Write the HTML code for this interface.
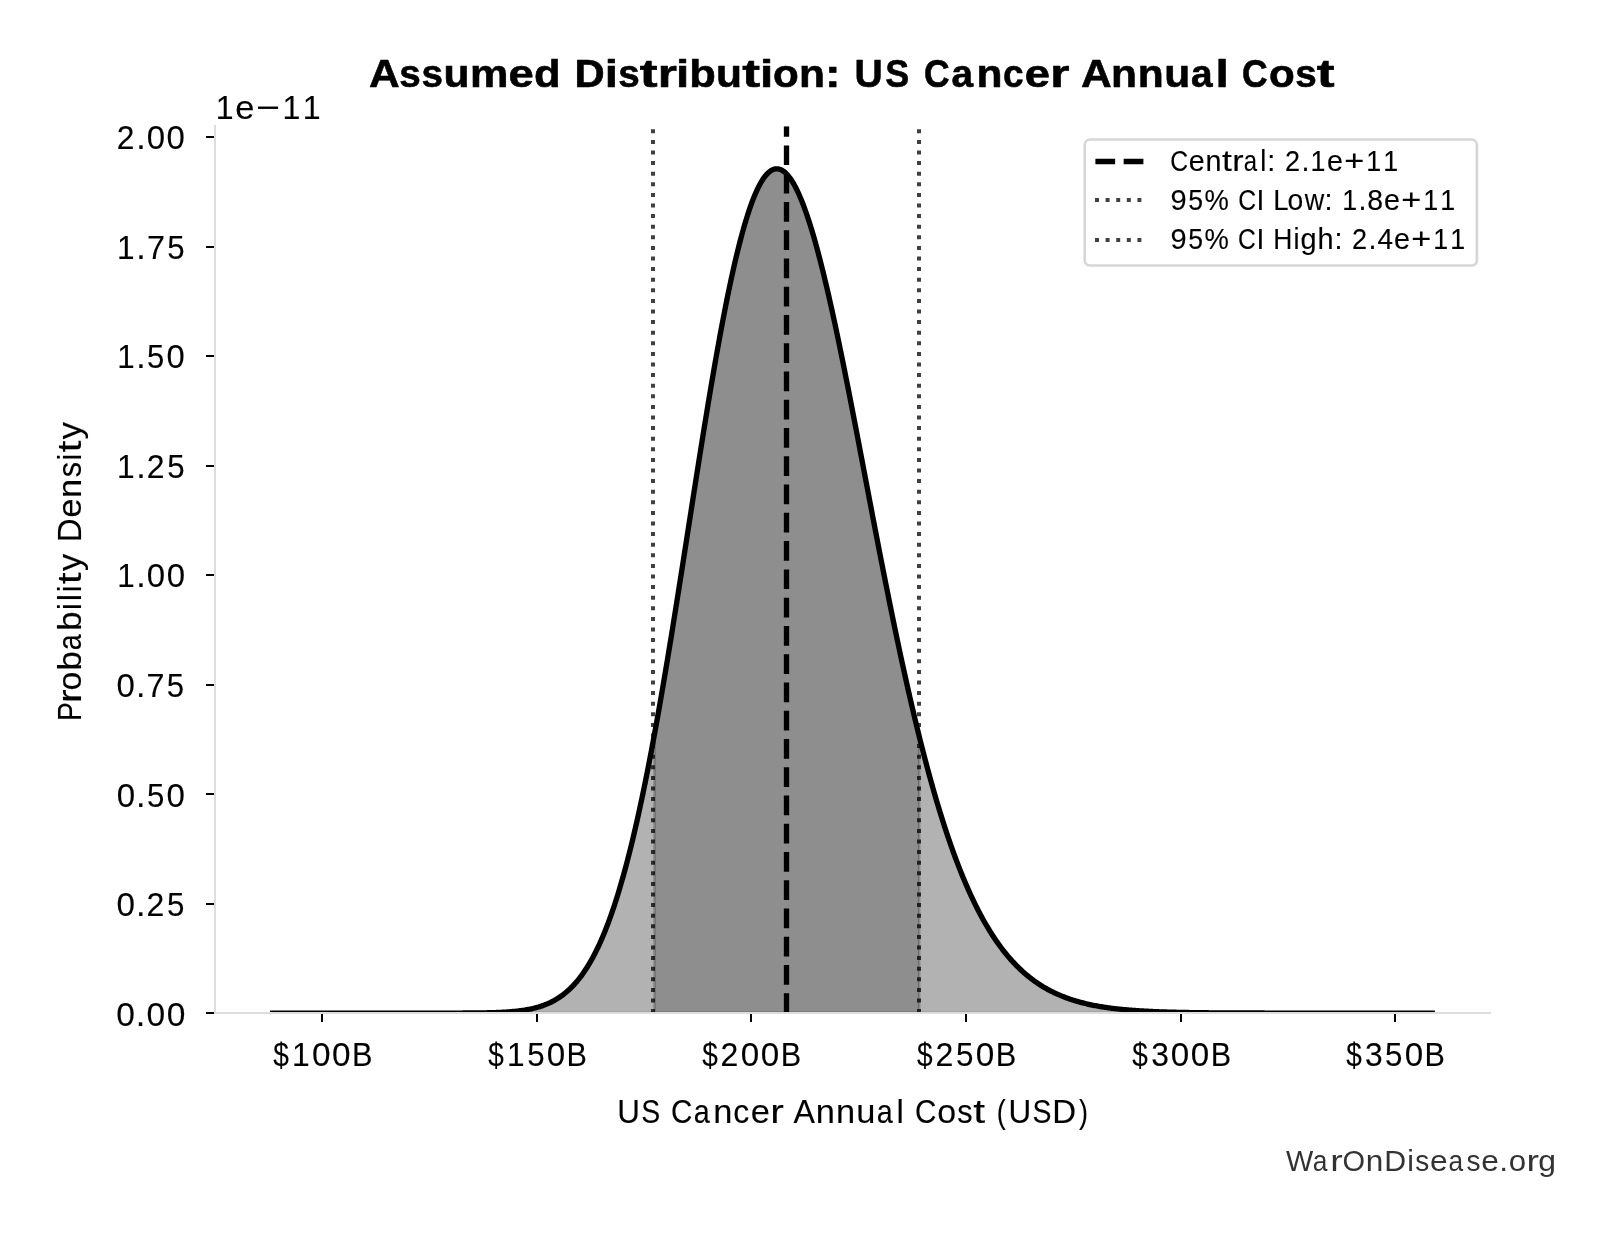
<!DOCTYPE html>
<html><head><meta charset="utf-8"><title>Assumed Distribution: US Cancer Annual Cost</title>
<style>
html,body{margin:0;padding:0;background:#fff;}
body{width:1614px;height:1234px;overflow:hidden;}
svg{display:block;will-change:transform;}
text{font-family:"Liberation Sans",sans-serif;}
</style></head>
<body>
<svg width="1614" height="1234" viewBox="0 0 1614 1234">
<rect width="1614" height="1234" fill="#fff"/>

<defs><clipPath id="ax"><rect x="214.8" y="126.2" width="1275.50" height="886.90"/></clipPath></defs>
<g clip-path="url(#ax)">
<path d="M272.76,1013.1 L272.76,1013.1 273.92,1013.1 275.08,1013.1 276.24,1013.1 277.4,1013.1 278.56,1013.1 279.72,1013.1 280.88,1013.1 282.04,1013.1 283.2,1013.1 284.36,1013.1 285.52,1013.1 286.68,1013.1 287.84,1013.1 289,1013.1 290.16,1013.1 291.33,1013.1 292.49,1013.1 293.65,1013.1 294.81,1013.1 295.97,1013.1 297.13,1013.1 298.29,1013.1 299.45,1013.1 300.61,1013.1 301.77,1013.1 302.93,1013.1 304.09,1013.1 305.25,1013.1 306.41,1013.1 307.57,1013.1 308.73,1013.1 309.9,1013.1 311.06,1013.1 312.22,1013.1 313.38,1013.1 314.54,1013.1 315.7,1013.1 316.86,1013.1 318.02,1013.1 319.18,1013.1 320.34,1013.1 321.5,1013.1 322.66,1013.1 323.82,1013.1 324.98,1013.1 326.14,1013.1 327.3,1013.1 328.47,1013.1 329.63,1013.1 330.79,1013.1 331.95,1013.1 333.11,1013.1 334.27,1013.1 335.43,1013.1 336.59,1013.1 337.75,1013.1 338.91,1013.1 340.07,1013.1 341.23,1013.1 342.39,1013.1 343.55,1013.1 344.71,1013.1 345.87,1013.1 347.04,1013.1 348.2,1013.1 349.36,1013.1 350.52,1013.1 351.68,1013.1 352.84,1013.1 354,1013.1 355.16,1013.1 356.32,1013.1 357.48,1013.1 358.64,1013.1 359.8,1013.1 360.96,1013.1 362.12,1013.1 363.28,1013.1 364.44,1013.1 365.61,1013.1 366.77,1013.1 367.93,1013.1 369.09,1013.1 370.25,1013.1 371.41,1013.1 372.57,1013.1 373.73,1013.1 374.89,1013.1 376.05,1013.1 377.21,1013.1 378.37,1013.1 379.53,1013.1 380.69,1013.1 381.85,1013.1 383.01,1013.1 384.18,1013.1 385.34,1013.1 386.5,1013.1 387.66,1013.1 388.82,1013.1 389.98,1013.1 391.14,1013.1 392.3,1013.1 393.46,1013.1 394.62,1013.1 395.78,1013.1 396.94,1013.1 398.1,1013.1 399.26,1013.1 400.42,1013.1 401.58,1013.1 402.75,1013.1 403.91,1013.1 405.07,1013.1 406.23,1013.1 407.39,1013.1 408.55,1013.1 409.71,1013.1 410.87,1013.1 412.03,1013.1 413.19,1013.1 414.35,1013.1 415.51,1013.1 416.67,1013.1 417.83,1013.1 418.99,1013.1 420.15,1013.1 421.32,1013.1 422.48,1013.1 423.64,1013.1 424.8,1013.1 425.96,1013.1 427.12,1013.1 428.28,1013.1 429.44,1013.1 430.6,1013.1 431.76,1013.1 432.92,1013.1 434.08,1013.09 435.24,1013.09 436.4,1013.09 437.56,1013.09 438.72,1013.09 439.89,1013.09 441.05,1013.09 442.21,1013.09 443.37,1013.09 444.53,1013.09 445.69,1013.09 446.85,1013.08 448.01,1013.08 449.17,1013.08 450.33,1013.08 451.49,1013.08 452.65,1013.07 453.81,1013.07 454.97,1013.07 456.13,1013.07 457.29,1013.06 458.46,1013.06 459.62,1013.06 460.78,1013.05 461.94,1013.05 463.1,1013.04 464.26,1013.04 465.42,1013.03 466.58,1013.03 467.74,1013.02 468.9,1013.01 470.06,1013 471.22,1012.99 472.38,1012.98 473.54,1012.97 474.7,1012.96 475.86,1012.95 477.03,1012.94 478.19,1012.93 479.35,1012.91 480.51,1012.9 481.67,1012.88 482.83,1012.86 483.99,1012.84 485.15,1012.82 486.31,1012.8 487.47,1012.77 488.63,1012.74 489.79,1012.72 490.95,1012.69 492.11,1012.65 493.27,1012.62 494.43,1012.58 495.6,1012.54 496.76,1012.5 497.92,1012.45 499.08,1012.41 500.24,1012.35 501.4,1012.3 502.56,1012.24 503.72,1012.18 504.88,1012.11 506.04,1012.04 507.2,1011.96 508.36,1011.88 509.52,1011.8 510.68,1011.71 511.84,1011.61 513,1011.51 514.17,1011.4 515.33,1011.28 516.49,1011.16 517.65,1011.03 518.81,1010.9 519.97,1010.75 521.13,1010.6 522.29,1010.44 523.45,1010.26 524.61,1010.08 525.77,1009.89 526.93,1009.69 528.09,1009.48 529.25,1009.25 530.41,1009.02 531.57,1008.77 532.74,1008.51 533.9,1008.23 535.06,1007.94 536.22,1007.64 537.38,1007.31 538.54,1006.98 539.7,1006.62 540.86,1006.25 542.02,1005.86 543.18,1005.45 544.34,1005.03 545.5,1004.58 546.66,1004.11 547.82,1003.62 548.98,1003.1 550.14,1002.56 551.31,1002 552.47,1001.41 553.63,1000.8 554.79,1000.15 555.95,999.48 557.11,998.78 558.27,998.06 559.43,997.3 560.59,996.5 561.75,995.68 562.91,994.82 564.07,993.93 565.23,993 566.39,992.03 567.55,991.02 568.71,989.98 569.88,988.89 571.04,987.77 572.2,986.6 573.36,985.39 574.52,984.13 575.68,982.83 576.84,981.48 578,980.08 579.16,978.63 580.32,977.13 581.48,975.58 582.64,973.97 583.8,972.32 584.96,970.6 586.12,968.83 587.28,967 588.45,965.12 589.61,963.17 590.77,961.16 591.93,959.09 593.09,956.96 594.25,954.76 595.41,952.5 596.57,950.17 597.73,947.77 598.89,945.3 600.05,942.77 601.21,940.16 602.37,937.48 603.53,934.73 604.69,931.9 605.85,929 607.02,926.02 608.18,922.97 609.34,919.84 610.5,916.63 611.66,913.34 612.82,909.97 613.98,906.53 615.14,903 616.3,899.39 617.46,895.69 618.62,891.92 619.78,888.06 620.94,884.12 622.1,880.09 623.26,875.98 624.43,871.79 625.59,867.51 626.75,863.15 627.91,858.7 629.07,854.16 630.23,849.54 631.39,844.84 632.55,840.05 633.71,835.17 634.87,830.22 636.03,825.17 637.19,820.05 638.35,814.84 639.51,809.54 640.67,804.17 641.83,798.71 643,793.17 644.16,787.55 645.32,781.85 646.48,776.08 647.64,770.22 648.8,764.29 649.96,758.29 651.12,752.2 652.28,746.05 653.44,739.83 654.6,733.53 655.76,727.17 656.92,720.73 658.08,714.24 659.24,707.68 660.4,701.05 661.57,694.37 662.73,687.62 663.89,680.82 665.05,673.97 666.21,667.06 667.37,660.1 668.53,653.1 669.69,646.05 670.85,638.95 672.01,631.81 673.17,624.63 674.33,617.42 675.49,610.17 676.65,602.89 677.81,595.58 678.97,588.25 680.14,580.89 681.3,573.51 682.46,566.11 683.62,558.69 684.78,551.27 685.94,543.83 687.1,536.39 688.26,528.94 689.42,521.5 690.58,514.05 691.74,506.61 692.9,499.18 694.06,491.76 695.22,484.36 696.38,476.97 697.54,469.61 698.71,462.26 699.87,454.95 701.03,447.66 702.19,440.41 703.35,433.2 704.51,426.03 705.67,418.89 706.83,411.81 707.99,404.77 709.15,397.79 710.31,390.86 711.47,383.99 712.63,377.19 713.79,370.44 714.95,363.77 716.11,357.16 717.28,350.63 718.44,344.18 719.6,337.81 720.76,331.51 721.92,325.31 723.08,319.19 724.24,313.16 725.4,307.23 726.56,301.39 727.72,295.65 728.88,290.01 730.04,284.48 731.2,279.05 732.36,273.73 733.52,268.53 734.68,263.43 735.85,258.45 737.01,253.59 738.17,248.85 739.33,244.23 740.49,239.73 741.65,235.36 742.81,231.12 743.97,227 745.13,223.02 746.29,219.17 747.45,215.45 748.61,211.87 749.77,208.42 750.93,205.11 752.09,201.94 753.25,198.91 754.42,196.03 755.58,193.28 756.74,190.68 757.9,188.22 759.06,185.91 760.22,183.74 761.38,181.72 762.54,179.84 763.7,178.11 764.86,176.53 766.02,175.09 767.18,173.81 768.34,172.67 769.5,171.67 770.66,170.83 771.82,170.13 772.99,169.58 774.15,169.18 775.31,168.92 776.47,168.81 777.63,168.85 778.79,169.03 779.95,169.35 781.11,169.82 782.27,170.43 783.43,171.19 784.59,172.08 785.75,173.11 786.91,174.29 788.07,175.6 789.23,177.05 790.39,178.63 791.56,180.34 792.72,182.19 793.88,184.17 795.04,186.28 796.2,188.52 797.36,190.89 798.52,193.38 799.68,195.99 800.84,198.73 802,201.58 803.16,204.55 804.32,207.64 805.48,210.85 806.64,214.16 807.8,217.59 808.96,221.12 810.13,224.76 811.29,228.51 812.45,232.35 813.61,236.3 814.77,240.34 815.93,244.48 817.09,248.71 818.25,253.04 819.41,257.45 820.57,261.95 821.73,266.53 822.89,271.2 824.05,275.95 825.21,280.77 826.37,285.67 827.53,290.64 828.7,295.68 829.86,300.79 831.02,305.96 832.18,311.2 833.34,316.5 834.5,321.86 835.66,327.27 836.82,332.74 837.98,338.26 839.14,343.83 840.3,349.45 841.46,355.11 842.62,360.81 843.78,366.55 844.94,372.34 846.1,378.15 847.27,384 848.43,389.88 849.59,395.79 850.75,401.73 851.91,407.69 853.07,413.68 854.23,419.68 855.39,425.7 856.55,431.74 857.71,437.8 858.87,443.86 860.03,449.94 861.19,456.02 862.35,462.11 863.51,468.2 864.67,474.3 865.84,480.4 867,486.49 868.16,492.58 869.32,498.67 870.48,504.75 871.64,510.82 872.8,516.89 873.96,522.94 875.12,528.97 876.28,535 877.44,541.01 878.6,546.99 879.76,552.96 880.92,558.91 882.08,564.84 883.24,570.75 884.41,576.62 885.57,582.48 886.73,588.3 887.89,594.1 889.05,599.87 890.21,605.61 891.37,611.31 892.53,616.99 893.69,622.63 894.85,628.23 896.01,633.8 897.17,639.33 898.33,644.82 899.49,650.28 900.65,655.69 901.81,661.07 902.98,666.4 904.14,671.69 905.3,676.94 906.46,682.15 907.62,687.31 908.78,692.43 909.94,697.5 911.1,702.53 912.26,707.51 913.42,712.45 914.58,717.33 915.74,722.17 916.9,726.97 918.06,731.71 919.22,736.41 920.38,741.06 921.55,745.66 922.71,750.2 923.87,754.7 925.03,759.15 926.19,763.55 927.35,767.9 928.51,772.2 929.67,776.45 930.83,780.65 931.99,784.8 933.15,788.89 934.31,792.94 935.47,796.94 936.63,800.88 937.79,804.78 938.95,808.62 940.12,812.42 941.28,816.16 942.44,819.85 943.6,823.5 944.76,827.09 945.92,830.63 947.08,834.13 948.24,837.57 949.4,840.97 950.56,844.32 951.72,847.61 952.88,850.86 954.04,854.06 955.2,857.22 956.36,860.32 957.52,863.38 958.69,866.39 959.85,869.36 961.01,872.27 962.17,875.15 963.33,877.97 964.49,880.75 965.65,883.49 966.81,886.18 967.97,888.83 969.13,891.43 970.29,893.99 971.45,896.51 972.61,898.98 973.77,901.42 974.93,903.81 976.09,906.16 977.26,908.46 978.42,910.73 979.58,912.96 980.74,915.15 981.9,917.3 983.06,919.41 984.22,921.48 985.38,923.51 986.54,925.51 987.7,927.47 988.86,929.39 990.02,931.28 991.18,933.13 992.34,934.95 993.5,936.73 994.66,938.48 995.83,940.19 996.99,941.87 998.15,943.52 999.31,945.14 1000.47,946.72 1001.63,948.27 1002.79,949.79 1003.95,951.29 1005.11,952.75 1006.27,954.18 1007.43,955.58 1008.59,956.95 1009.75,958.3 1010.91,959.62 1012.07,960.91 1013.23,962.17 1014.4,963.41 1015.56,964.62 1016.72,965.8 1017.88,966.96 1019.04,968.1 1020.2,969.21 1021.36,970.29 1022.52,971.36 1023.68,972.4 1024.84,973.41 1026,974.41 1027.16,975.38 1028.32,976.33 1029.48,977.26 1030.64,978.17 1031.8,979.06 1032.97,979.93 1034.13,980.78 1035.29,981.61 1036.45,982.42 1037.61,983.21 1038.77,983.99 1039.93,984.74 1041.09,985.48 1042.25,986.2 1043.41,986.91 1044.57,987.59 1045.73,988.27 1046.89,988.92 1048.05,989.56 1049.21,990.19 1050.37,990.8 1051.54,991.39 1052.7,991.97 1053.86,992.54 1055.02,993.09 1056.18,993.63 1057.34,994.16 1058.5,994.67 1059.66,995.18 1060.82,995.66 1061.98,996.14 1063.14,996.6 1064.3,997.06 1065.46,997.5 1066.62,997.93 1067.78,998.35 1068.94,998.76 1070.11,999.16 1071.27,999.55 1072.43,999.93 1073.59,1000.29 1074.75,1000.65 1075.91,1001 1077.07,1001.35 1078.23,1001.68 1079.39,1002 1080.55,1002.32 1081.71,1002.62 1082.87,1002.92 1084.03,1003.21 1085.19,1003.5 1086.35,1003.77 1087.51,1004.04 1088.68,1004.3 1089.84,1004.56 1091,1004.8 1092.16,1005.05 1093.32,1005.28 1094.48,1005.51 1095.64,1005.73 1096.8,1005.95 1097.96,1006.16 1099.12,1006.36 1100.28,1006.56 1101.44,1006.75 1102.6,1006.94 1103.76,1007.12 1104.92,1007.3 1106.09,1007.47 1107.25,1007.64 1108.41,1007.81 1109.57,1007.96 1110.73,1008.12 1111.89,1008.27 1113.05,1008.41 1114.21,1008.56 1115.37,1008.69 1116.53,1008.83 1117.69,1008.96 1118.85,1009.08 1120.01,1009.21 1121.17,1009.32 1122.33,1009.44 1123.49,1009.55 1124.66,1009.66 1125.82,1009.77 1126.98,1009.87 1128.14,1009.97 1129.3,1010.07 1130.46,1010.16 1131.62,1010.25 1132.78,1010.34 1133.94,1010.43 1135.1,1010.51 1136.26,1010.59 1137.42,1010.67 1138.58,1010.75 1139.74,1010.82 1140.9,1010.89 1142.06,1010.96 1143.23,1011.03 1144.39,1011.1 1145.55,1011.16 1146.71,1011.22 1147.87,1011.28 1149.03,1011.34 1150.19,1011.39 1151.35,1011.45 1152.51,1011.5 1153.67,1011.55 1154.83,1011.6 1155.99,1011.65 1157.15,1011.7 1158.31,1011.74 1159.47,1011.79 1160.63,1011.83 1161.8,1011.87 1162.96,1011.91 1164.12,1011.95 1165.28,1011.99 1166.44,1012.02 1167.6,1012.06 1168.76,1012.09 1169.92,1012.13 1171.08,1012.16 1172.24,1012.19 1173.4,1012.22 1174.56,1012.25 1175.72,1012.28 1176.88,1012.3 1178.04,1012.33 1179.2,1012.36 1180.37,1012.38 1181.53,1012.4 1182.69,1012.43 1183.85,1012.45 1185.01,1012.47 1186.17,1012.49 1187.33,1012.51 1188.49,1012.53 1189.65,1012.55 1190.81,1012.57 1191.97,1012.59 1193.13,1012.61 1194.29,1012.62 1195.45,1012.64 1196.61,1012.65 1197.77,1012.67 1198.94,1012.68 1200.1,1012.7 1201.26,1012.71 1202.42,1012.73 1203.58,1012.74 1204.74,1012.75 1205.9,1012.76 1207.06,1012.77 1208.22,1012.79 1209.38,1012.8 1210.54,1012.81 1211.7,1012.82 1212.86,1012.83 1214.02,1012.84 1215.18,1012.85 1216.34,1012.85 1217.51,1012.86 1218.67,1012.87 1219.83,1012.88 1220.99,1012.89 1222.15,1012.89 1223.31,1012.9 1224.47,1012.91 1225.63,1012.92 1226.79,1012.92 1227.95,1012.93 1229.11,1012.93 1230.27,1012.94 1231.43,1012.95 1232.59,1012.95 1233.75,1012.96 1234.91,1012.96 1236.08,1012.97 1237.24,1012.97 1238.4,1012.98 1239.56,1012.98 1240.72,1012.98 1241.88,1012.99 1243.04,1012.99 1244.2,1013 1245.36,1013 1246.52,1013 1247.68,1013.01 1248.84,1013.01 1250,1013.01 1251.16,1013.02 1252.32,1013.02 1253.48,1013.02 1254.65,1013.03 1255.81,1013.03 1256.97,1013.03 1258.13,1013.03 1259.29,1013.04 1260.45,1013.04 1261.61,1013.04 1262.77,1013.04 1263.93,1013.04 1265.09,1013.05 1266.25,1013.05 1267.41,1013.05 1268.57,1013.05 1269.73,1013.05 1270.89,1013.06 1272.05,1013.06 1273.22,1013.06 1274.38,1013.06 1275.54,1013.06 1276.7,1013.06 1277.86,1013.06 1279.02,1013.07 1280.18,1013.07 1281.34,1013.07 1282.5,1013.07 1283.66,1013.07 1284.82,1013.07 1285.98,1013.07 1287.14,1013.07 1288.3,1013.07 1289.46,1013.08 1290.62,1013.08 1291.79,1013.08 1292.95,1013.08 1294.11,1013.08 1295.27,1013.08 1296.43,1013.08 1297.59,1013.08 1298.75,1013.08 1299.91,1013.08 1301.07,1013.08 1302.23,1013.08 1303.39,1013.08 1304.55,1013.09 1305.71,1013.09 1306.87,1013.09 1308.03,1013.09 1309.19,1013.09 1310.36,1013.09 1311.52,1013.09 1312.68,1013.09 1313.84,1013.09 1315,1013.09 1316.16,1013.09 1317.32,1013.09 1318.48,1013.09 1319.64,1013.09 1320.8,1013.09 1321.96,1013.09 1323.12,1013.09 1324.28,1013.09 1325.44,1013.09 1326.6,1013.09 1327.76,1013.09 1328.93,1013.09 1330.09,1013.09 1331.25,1013.09 1332.41,1013.09 1333.57,1013.09 1334.73,1013.09 1335.89,1013.09 1337.05,1013.1 1338.21,1013.1 1339.37,1013.1 1340.53,1013.1 1341.69,1013.1 1342.85,1013.1 1344.01,1013.1 1345.17,1013.1 1346.33,1013.1 1347.5,1013.1 1348.66,1013.1 1349.82,1013.1 1350.98,1013.1 1352.14,1013.1 1353.3,1013.1 1354.46,1013.1 1355.62,1013.1 1356.78,1013.1 1357.94,1013.1 1359.1,1013.1 1360.26,1013.1 1361.42,1013.1 1362.58,1013.1 1363.74,1013.1 1364.9,1013.1 1366.07,1013.1 1367.23,1013.1 1368.39,1013.1 1369.55,1013.1 1370.71,1013.1 1371.87,1013.1 1373.03,1013.1 1374.19,1013.1 1375.35,1013.1 1376.51,1013.1 1377.67,1013.1 1378.83,1013.1 1379.99,1013.1 1381.15,1013.1 1382.31,1013.1 1383.47,1013.1 1384.64,1013.1 1385.8,1013.1 1386.96,1013.1 1388.12,1013.1 1389.28,1013.1 1390.44,1013.1 1391.6,1013.1 1392.76,1013.1 1393.92,1013.1 1395.08,1013.1 1396.24,1013.1 1397.4,1013.1 1398.56,1013.1 1399.72,1013.1 1400.88,1013.1 1402.04,1013.1 1403.21,1013.1 1404.37,1013.1 1405.53,1013.1 1406.69,1013.1 1407.85,1013.1 1409.01,1013.1 1410.17,1013.1 1411.33,1013.1 1412.49,1013.1 1413.65,1013.1 1414.81,1013.1 1415.97,1013.1 1417.13,1013.1 1418.29,1013.1 1419.45,1013.1 1420.61,1013.1 1421.78,1013.1 1422.94,1013.1 1424.1,1013.1 1425.26,1013.1 1426.42,1013.1 1427.58,1013.1 1428.74,1013.1 1429.9,1013.1 1431.06,1013.1 1432.22,1013.1 L1432.22,1013.1 Z" fill="#000" fill-opacity="0.3" stroke="#000" stroke-opacity="0.3" stroke-width="2.667" stroke-linejoin="round"/>
<path d="M654.5,1013.1 L654.5,734.08 654.6,733.53 655.76,727.17 656.92,720.73 658.08,714.24 659.24,707.68 660.4,701.05 661.57,694.37 662.73,687.62 663.89,680.82 665.05,673.97 666.21,667.06 667.37,660.1 668.53,653.1 669.69,646.05 670.85,638.95 672.01,631.81 673.17,624.63 674.33,617.42 675.49,610.17 676.65,602.89 677.81,595.58 678.97,588.25 680.14,580.89 681.3,573.51 682.46,566.11 683.62,558.69 684.78,551.27 685.94,543.83 687.1,536.39 688.26,528.94 689.42,521.5 690.58,514.05 691.74,506.61 692.9,499.18 694.06,491.76 695.22,484.36 696.38,476.97 697.54,469.61 698.71,462.26 699.87,454.95 701.03,447.66 702.19,440.41 703.35,433.2 704.51,426.03 705.67,418.89 706.83,411.81 707.99,404.77 709.15,397.79 710.31,390.86 711.47,383.99 712.63,377.19 713.79,370.44 714.95,363.77 716.11,357.16 717.28,350.63 718.44,344.18 719.6,337.81 720.76,331.51 721.92,325.31 723.08,319.19 724.24,313.16 725.4,307.23 726.56,301.39 727.72,295.65 728.88,290.01 730.04,284.48 731.2,279.05 732.36,273.73 733.52,268.53 734.68,263.43 735.85,258.45 737.01,253.59 738.17,248.85 739.33,244.23 740.49,239.73 741.65,235.36 742.81,231.12 743.97,227 745.13,223.02 746.29,219.17 747.45,215.45 748.61,211.87 749.77,208.42 750.93,205.11 752.09,201.94 753.25,198.91 754.42,196.03 755.58,193.28 756.74,190.68 757.9,188.22 759.06,185.91 760.22,183.74 761.38,181.72 762.54,179.84 763.7,178.11 764.86,176.53 766.02,175.09 767.18,173.81 768.34,172.67 769.5,171.67 770.66,170.83 771.82,170.13 772.99,169.58 774.15,169.18 775.31,168.92 776.47,168.81 777.63,168.85 778.79,169.03 779.95,169.35 781.11,169.82 782.27,170.43 783.43,171.19 784.59,172.08 785.75,173.11 786.91,174.29 788.07,175.6 789.23,177.05 790.39,178.63 791.56,180.34 792.72,182.19 793.88,184.17 795.04,186.28 796.2,188.52 797.36,190.89 798.52,193.38 799.68,195.99 800.84,198.73 802,201.58 803.16,204.55 804.32,207.64 805.48,210.85 806.64,214.16 807.8,217.59 808.96,221.12 810.13,224.76 811.29,228.51 812.45,232.35 813.61,236.3 814.77,240.34 815.93,244.48 817.09,248.71 818.25,253.04 819.41,257.45 820.57,261.95 821.73,266.53 822.89,271.2 824.05,275.95 825.21,280.77 826.37,285.67 827.53,290.64 828.7,295.68 829.86,300.79 831.02,305.96 832.18,311.2 833.34,316.5 834.5,321.86 835.66,327.27 836.82,332.74 837.98,338.26 839.14,343.83 840.3,349.45 841.46,355.11 842.62,360.81 843.78,366.55 844.94,372.34 846.1,378.15 847.27,384 848.43,389.88 849.59,395.79 850.75,401.73 851.91,407.69 853.07,413.68 854.23,419.68 855.39,425.7 856.55,431.74 857.71,437.8 858.87,443.86 860.03,449.94 861.19,456.02 862.35,462.11 863.51,468.2 864.67,474.3 865.84,480.4 867,486.49 868.16,492.58 869.32,498.67 870.48,504.75 871.64,510.82 872.8,516.89 873.96,522.94 875.12,528.97 876.28,535 877.44,541.01 878.6,546.99 879.76,552.96 880.92,558.91 882.08,564.84 883.24,570.75 884.41,576.62 885.57,582.48 886.73,588.3 887.89,594.1 889.05,599.87 890.21,605.61 891.37,611.31 892.53,616.99 893.69,622.63 894.85,628.23 896.01,633.8 897.17,639.33 898.33,644.82 899.49,650.28 900.65,655.69 901.81,661.07 902.98,666.4 904.14,671.69 905.3,676.94 906.46,682.15 907.62,687.31 908.78,692.43 909.94,697.5 911.1,702.53 912.26,707.51 913.42,712.45 914.58,717.33 915.74,722.17 916.9,726.97 918.06,731.71 919.2,736.31 L919.2,1013.1 Z" fill="#000" fill-opacity="0.2" stroke="#000" stroke-opacity="0.2" stroke-width="2.667" stroke-linejoin="round"/>
<path d="M272.76,1013.1 L273.92,1013.1 L275.08,1013.1 L276.24,1013.1 L277.4,1013.1 L278.56,1013.1 L279.72,1013.1 L280.88,1013.1 L282.04,1013.1 L283.2,1013.1 L284.36,1013.1 L285.52,1013.1 L286.68,1013.1 L287.84,1013.1 L289,1013.1 L290.16,1013.1 L291.33,1013.1 L292.49,1013.1 L293.65,1013.1 L294.81,1013.1 L295.97,1013.1 L297.13,1013.1 L298.29,1013.1 L299.45,1013.1 L300.61,1013.1 L301.77,1013.1 L302.93,1013.1 L304.09,1013.1 L305.25,1013.1 L306.41,1013.1 L307.57,1013.1 L308.73,1013.1 L309.9,1013.1 L311.06,1013.1 L312.22,1013.1 L313.38,1013.1 L314.54,1013.1 L315.7,1013.1 L316.86,1013.1 L318.02,1013.1 L319.18,1013.1 L320.34,1013.1 L321.5,1013.1 L322.66,1013.1 L323.82,1013.1 L324.98,1013.1 L326.14,1013.1 L327.3,1013.1 L328.47,1013.1 L329.63,1013.1 L330.79,1013.1 L331.95,1013.1 L333.11,1013.1 L334.27,1013.1 L335.43,1013.1 L336.59,1013.1 L337.75,1013.1 L338.91,1013.1 L340.07,1013.1 L341.23,1013.1 L342.39,1013.1 L343.55,1013.1 L344.71,1013.1 L345.87,1013.1 L347.04,1013.1 L348.2,1013.1 L349.36,1013.1 L350.52,1013.1 L351.68,1013.1 L352.84,1013.1 L354,1013.1 L355.16,1013.1 L356.32,1013.1 L357.48,1013.1 L358.64,1013.1 L359.8,1013.1 L360.96,1013.1 L362.12,1013.1 L363.28,1013.1 L364.44,1013.1 L365.61,1013.1 L366.77,1013.1 L367.93,1013.1 L369.09,1013.1 L370.25,1013.1 L371.41,1013.1 L372.57,1013.1 L373.73,1013.1 L374.89,1013.1 L376.05,1013.1 L377.21,1013.1 L378.37,1013.1 L379.53,1013.1 L380.69,1013.1 L381.85,1013.1 L383.01,1013.1 L384.18,1013.1 L385.34,1013.1 L386.5,1013.1 L387.66,1013.1 L388.82,1013.1 L389.98,1013.1 L391.14,1013.1 L392.3,1013.1 L393.46,1013.1 L394.62,1013.1 L395.78,1013.1 L396.94,1013.1 L398.1,1013.1 L399.26,1013.1 L400.42,1013.1 L401.58,1013.1 L402.75,1013.1 L403.91,1013.1 L405.07,1013.1 L406.23,1013.1 L407.39,1013.1 L408.55,1013.1 L409.71,1013.1 L410.87,1013.1 L412.03,1013.1 L413.19,1013.1 L414.35,1013.1 L415.51,1013.1 L416.67,1013.1 L417.83,1013.1 L418.99,1013.1 L420.15,1013.1 L421.32,1013.1 L422.48,1013.1 L423.64,1013.1 L424.8,1013.1 L425.96,1013.1 L427.12,1013.1 L428.28,1013.1 L429.44,1013.1 L430.6,1013.1 L431.76,1013.1 L432.92,1013.1 L434.08,1013.09 L435.24,1013.09 L436.4,1013.09 L437.56,1013.09 L438.72,1013.09 L439.89,1013.09 L441.05,1013.09 L442.21,1013.09 L443.37,1013.09 L444.53,1013.09 L445.69,1013.09 L446.85,1013.08 L448.01,1013.08 L449.17,1013.08 L450.33,1013.08 L451.49,1013.08 L452.65,1013.07 L453.81,1013.07 L454.97,1013.07 L456.13,1013.07 L457.29,1013.06 L458.46,1013.06 L459.62,1013.06 L460.78,1013.05 L461.94,1013.05 L463.1,1013.04 L464.26,1013.04 L465.42,1013.03 L466.58,1013.03 L467.74,1013.02 L468.9,1013.01 L470.06,1013 L471.22,1012.99 L472.38,1012.98 L473.54,1012.97 L474.7,1012.96 L475.86,1012.95 L477.03,1012.94 L478.19,1012.93 L479.35,1012.91 L480.51,1012.9 L481.67,1012.88 L482.83,1012.86 L483.99,1012.84 L485.15,1012.82 L486.31,1012.8 L487.47,1012.77 L488.63,1012.74 L489.79,1012.72 L490.95,1012.69 L492.11,1012.65 L493.27,1012.62 L494.43,1012.58 L495.6,1012.54 L496.76,1012.5 L497.92,1012.45 L499.08,1012.41 L500.24,1012.35 L501.4,1012.3 L502.56,1012.24 L503.72,1012.18 L504.88,1012.11 L506.04,1012.04 L507.2,1011.96 L508.36,1011.88 L509.52,1011.8 L510.68,1011.71 L511.84,1011.61 L513,1011.51 L514.17,1011.4 L515.33,1011.28 L516.49,1011.16 L517.65,1011.03 L518.81,1010.9 L519.97,1010.75 L521.13,1010.6 L522.29,1010.44 L523.45,1010.26 L524.61,1010.08 L525.77,1009.89 L526.93,1009.69 L528.09,1009.48 L529.25,1009.25 L530.41,1009.02 L531.57,1008.77 L532.74,1008.51 L533.9,1008.23 L535.06,1007.94 L536.22,1007.64 L537.38,1007.31 L538.54,1006.98 L539.7,1006.62 L540.86,1006.25 L542.02,1005.86 L543.18,1005.45 L544.34,1005.03 L545.5,1004.58 L546.66,1004.11 L547.82,1003.62 L548.98,1003.1 L550.14,1002.56 L551.31,1002 L552.47,1001.41 L553.63,1000.8 L554.79,1000.15 L555.95,999.48 L557.11,998.78 L558.27,998.06 L559.43,997.3 L560.59,996.5 L561.75,995.68 L562.91,994.82 L564.07,993.93 L565.23,993 L566.39,992.03 L567.55,991.02 L568.71,989.98 L569.88,988.89 L571.04,987.77 L572.2,986.6 L573.36,985.39 L574.52,984.13 L575.68,982.83 L576.84,981.48 L578,980.08 L579.16,978.63 L580.32,977.13 L581.48,975.58 L582.64,973.97 L583.8,972.32 L584.96,970.6 L586.12,968.83 L587.28,967 L588.45,965.12 L589.61,963.17 L590.77,961.16 L591.93,959.09 L593.09,956.96 L594.25,954.76 L595.41,952.5 L596.57,950.17 L597.73,947.77 L598.89,945.3 L600.05,942.77 L601.21,940.16 L602.37,937.48 L603.53,934.73 L604.69,931.9 L605.85,929 L607.02,926.02 L608.18,922.97 L609.34,919.84 L610.5,916.63 L611.66,913.34 L612.82,909.97 L613.98,906.53 L615.14,903 L616.3,899.39 L617.46,895.69 L618.62,891.92 L619.78,888.06 L620.94,884.12 L622.1,880.09 L623.26,875.98 L624.43,871.79 L625.59,867.51 L626.75,863.15 L627.91,858.7 L629.07,854.16 L630.23,849.54 L631.39,844.84 L632.55,840.05 L633.71,835.17 L634.87,830.22 L636.03,825.17 L637.19,820.05 L638.35,814.84 L639.51,809.54 L640.67,804.17 L641.83,798.71 L643,793.17 L644.16,787.55 L645.32,781.85 L646.48,776.08 L647.64,770.22 L648.8,764.29 L649.96,758.29 L651.12,752.2 L652.28,746.05 L653.44,739.83 L654.6,733.53 L655.76,727.17 L656.92,720.73 L658.08,714.24 L659.24,707.68 L660.4,701.05 L661.57,694.37 L662.73,687.62 L663.89,680.82 L665.05,673.97 L666.21,667.06 L667.37,660.1 L668.53,653.1 L669.69,646.05 L670.85,638.95 L672.01,631.81 L673.17,624.63 L674.33,617.42 L675.49,610.17 L676.65,602.89 L677.81,595.58 L678.97,588.25 L680.14,580.89 L681.3,573.51 L682.46,566.11 L683.62,558.69 L684.78,551.27 L685.94,543.83 L687.1,536.39 L688.26,528.94 L689.42,521.5 L690.58,514.05 L691.74,506.61 L692.9,499.18 L694.06,491.76 L695.22,484.36 L696.38,476.97 L697.54,469.61 L698.71,462.26 L699.87,454.95 L701.03,447.66 L702.19,440.41 L703.35,433.2 L704.51,426.03 L705.67,418.89 L706.83,411.81 L707.99,404.77 L709.15,397.79 L710.31,390.86 L711.47,383.99 L712.63,377.19 L713.79,370.44 L714.95,363.77 L716.11,357.16 L717.28,350.63 L718.44,344.18 L719.6,337.81 L720.76,331.51 L721.92,325.31 L723.08,319.19 L724.24,313.16 L725.4,307.23 L726.56,301.39 L727.72,295.65 L728.88,290.01 L730.04,284.48 L731.2,279.05 L732.36,273.73 L733.52,268.53 L734.68,263.43 L735.85,258.45 L737.01,253.59 L738.17,248.85 L739.33,244.23 L740.49,239.73 L741.65,235.36 L742.81,231.12 L743.97,227 L745.13,223.02 L746.29,219.17 L747.45,215.45 L748.61,211.87 L749.77,208.42 L750.93,205.11 L752.09,201.94 L753.25,198.91 L754.42,196.03 L755.58,193.28 L756.74,190.68 L757.9,188.22 L759.06,185.91 L760.22,183.74 L761.38,181.72 L762.54,179.84 L763.7,178.11 L764.86,176.53 L766.02,175.09 L767.18,173.81 L768.34,172.67 L769.5,171.67 L770.66,170.83 L771.82,170.13 L772.99,169.58 L774.15,169.18 L775.31,168.92 L776.47,168.81 L777.63,168.85 L778.79,169.03 L779.95,169.35 L781.11,169.82 L782.27,170.43 L783.43,171.19 L784.59,172.08 L785.75,173.11 L786.91,174.29 L788.07,175.6 L789.23,177.05 L790.39,178.63 L791.56,180.34 L792.72,182.19 L793.88,184.17 L795.04,186.28 L796.2,188.52 L797.36,190.89 L798.52,193.38 L799.68,195.99 L800.84,198.73 L802,201.58 L803.16,204.55 L804.32,207.64 L805.48,210.85 L806.64,214.16 L807.8,217.59 L808.96,221.12 L810.13,224.76 L811.29,228.51 L812.45,232.35 L813.61,236.3 L814.77,240.34 L815.93,244.48 L817.09,248.71 L818.25,253.04 L819.41,257.45 L820.57,261.95 L821.73,266.53 L822.89,271.2 L824.05,275.95 L825.21,280.77 L826.37,285.67 L827.53,290.64 L828.7,295.68 L829.86,300.79 L831.02,305.96 L832.18,311.2 L833.34,316.5 L834.5,321.86 L835.66,327.27 L836.82,332.74 L837.98,338.26 L839.14,343.83 L840.3,349.45 L841.46,355.11 L842.62,360.81 L843.78,366.55 L844.94,372.34 L846.1,378.15 L847.27,384 L848.43,389.88 L849.59,395.79 L850.75,401.73 L851.91,407.69 L853.07,413.68 L854.23,419.68 L855.39,425.7 L856.55,431.74 L857.71,437.8 L858.87,443.86 L860.03,449.94 L861.19,456.02 L862.35,462.11 L863.51,468.2 L864.67,474.3 L865.84,480.4 L867,486.49 L868.16,492.58 L869.32,498.67 L870.48,504.75 L871.64,510.82 L872.8,516.89 L873.96,522.94 L875.12,528.97 L876.28,535 L877.44,541.01 L878.6,546.99 L879.76,552.96 L880.92,558.91 L882.08,564.84 L883.24,570.75 L884.41,576.62 L885.57,582.48 L886.73,588.3 L887.89,594.1 L889.05,599.87 L890.21,605.61 L891.37,611.31 L892.53,616.99 L893.69,622.63 L894.85,628.23 L896.01,633.8 L897.17,639.33 L898.33,644.82 L899.49,650.28 L900.65,655.69 L901.81,661.07 L902.98,666.4 L904.14,671.69 L905.3,676.94 L906.46,682.15 L907.62,687.31 L908.78,692.43 L909.94,697.5 L911.1,702.53 L912.26,707.51 L913.42,712.45 L914.58,717.33 L915.74,722.17 L916.9,726.97 L918.06,731.71 L919.22,736.41 L920.38,741.06 L921.55,745.66 L922.71,750.2 L923.87,754.7 L925.03,759.15 L926.19,763.55 L927.35,767.9 L928.51,772.2 L929.67,776.45 L930.83,780.65 L931.99,784.8 L933.15,788.89 L934.31,792.94 L935.47,796.94 L936.63,800.88 L937.79,804.78 L938.95,808.62 L940.12,812.42 L941.28,816.16 L942.44,819.85 L943.6,823.5 L944.76,827.09 L945.92,830.63 L947.08,834.13 L948.24,837.57 L949.4,840.97 L950.56,844.32 L951.72,847.61 L952.88,850.86 L954.04,854.06 L955.2,857.22 L956.36,860.32 L957.52,863.38 L958.69,866.39 L959.85,869.36 L961.01,872.27 L962.17,875.15 L963.33,877.97 L964.49,880.75 L965.65,883.49 L966.81,886.18 L967.97,888.83 L969.13,891.43 L970.29,893.99 L971.45,896.51 L972.61,898.98 L973.77,901.42 L974.93,903.81 L976.09,906.16 L977.26,908.46 L978.42,910.73 L979.58,912.96 L980.74,915.15 L981.9,917.3 L983.06,919.41 L984.22,921.48 L985.38,923.51 L986.54,925.51 L987.7,927.47 L988.86,929.39 L990.02,931.28 L991.18,933.13 L992.34,934.95 L993.5,936.73 L994.66,938.48 L995.83,940.19 L996.99,941.87 L998.15,943.52 L999.31,945.14 L1000.47,946.72 L1001.63,948.27 L1002.79,949.79 L1003.95,951.29 L1005.11,952.75 L1006.27,954.18 L1007.43,955.58 L1008.59,956.95 L1009.75,958.3 L1010.91,959.62 L1012.07,960.91 L1013.23,962.17 L1014.4,963.41 L1015.56,964.62 L1016.72,965.8 L1017.88,966.96 L1019.04,968.1 L1020.2,969.21 L1021.36,970.29 L1022.52,971.36 L1023.68,972.4 L1024.84,973.41 L1026,974.41 L1027.16,975.38 L1028.32,976.33 L1029.48,977.26 L1030.64,978.17 L1031.8,979.06 L1032.97,979.93 L1034.13,980.78 L1035.29,981.61 L1036.45,982.42 L1037.61,983.21 L1038.77,983.99 L1039.93,984.74 L1041.09,985.48 L1042.25,986.2 L1043.41,986.91 L1044.57,987.59 L1045.73,988.27 L1046.89,988.92 L1048.05,989.56 L1049.21,990.19 L1050.37,990.8 L1051.54,991.39 L1052.7,991.97 L1053.86,992.54 L1055.02,993.09 L1056.18,993.63 L1057.34,994.16 L1058.5,994.67 L1059.66,995.18 L1060.82,995.66 L1061.98,996.14 L1063.14,996.6 L1064.3,997.06 L1065.46,997.5 L1066.62,997.93 L1067.78,998.35 L1068.94,998.76 L1070.11,999.16 L1071.27,999.55 L1072.43,999.93 L1073.59,1000.29 L1074.75,1000.65 L1075.91,1001 L1077.07,1001.35 L1078.23,1001.68 L1079.39,1002 L1080.55,1002.32 L1081.71,1002.62 L1082.87,1002.92 L1084.03,1003.21 L1085.19,1003.5 L1086.35,1003.77 L1087.51,1004.04 L1088.68,1004.3 L1089.84,1004.56 L1091,1004.8 L1092.16,1005.05 L1093.32,1005.28 L1094.48,1005.51 L1095.64,1005.73 L1096.8,1005.95 L1097.96,1006.16 L1099.12,1006.36 L1100.28,1006.56 L1101.44,1006.75 L1102.6,1006.94 L1103.76,1007.12 L1104.92,1007.3 L1106.09,1007.47 L1107.25,1007.64 L1108.41,1007.81 L1109.57,1007.96 L1110.73,1008.12 L1111.89,1008.27 L1113.05,1008.41 L1114.21,1008.56 L1115.37,1008.69 L1116.53,1008.83 L1117.69,1008.96 L1118.85,1009.08 L1120.01,1009.21 L1121.17,1009.32 L1122.33,1009.44 L1123.49,1009.55 L1124.66,1009.66 L1125.82,1009.77 L1126.98,1009.87 L1128.14,1009.97 L1129.3,1010.07 L1130.46,1010.16 L1131.62,1010.25 L1132.78,1010.34 L1133.94,1010.43 L1135.1,1010.51 L1136.26,1010.59 L1137.42,1010.67 L1138.58,1010.75 L1139.74,1010.82 L1140.9,1010.89 L1142.06,1010.96 L1143.23,1011.03 L1144.39,1011.1 L1145.55,1011.16 L1146.71,1011.22 L1147.87,1011.28 L1149.03,1011.34 L1150.19,1011.39 L1151.35,1011.45 L1152.51,1011.5 L1153.67,1011.55 L1154.83,1011.6 L1155.99,1011.65 L1157.15,1011.7 L1158.31,1011.74 L1159.47,1011.79 L1160.63,1011.83 L1161.8,1011.87 L1162.96,1011.91 L1164.12,1011.95 L1165.28,1011.99 L1166.44,1012.02 L1167.6,1012.06 L1168.76,1012.09 L1169.92,1012.13 L1171.08,1012.16 L1172.24,1012.19 L1173.4,1012.22 L1174.56,1012.25 L1175.72,1012.28 L1176.88,1012.3 L1178.04,1012.33 L1179.2,1012.36 L1180.37,1012.38 L1181.53,1012.4 L1182.69,1012.43 L1183.85,1012.45 L1185.01,1012.47 L1186.17,1012.49 L1187.33,1012.51 L1188.49,1012.53 L1189.65,1012.55 L1190.81,1012.57 L1191.97,1012.59 L1193.13,1012.61 L1194.29,1012.62 L1195.45,1012.64 L1196.61,1012.65 L1197.77,1012.67 L1198.94,1012.68 L1200.1,1012.7 L1201.26,1012.71 L1202.42,1012.73 L1203.58,1012.74 L1204.74,1012.75 L1205.9,1012.76 L1207.06,1012.77 L1208.22,1012.79 L1209.38,1012.8 L1210.54,1012.81 L1211.7,1012.82 L1212.86,1012.83 L1214.02,1012.84 L1215.18,1012.85 L1216.34,1012.85 L1217.51,1012.86 L1218.67,1012.87 L1219.83,1012.88 L1220.99,1012.89 L1222.15,1012.89 L1223.31,1012.9 L1224.47,1012.91 L1225.63,1012.92 L1226.79,1012.92 L1227.95,1012.93 L1229.11,1012.93 L1230.27,1012.94 L1231.43,1012.95 L1232.59,1012.95 L1233.75,1012.96 L1234.91,1012.96 L1236.08,1012.97 L1237.24,1012.97 L1238.4,1012.98 L1239.56,1012.98 L1240.72,1012.98 L1241.88,1012.99 L1243.04,1012.99 L1244.2,1013 L1245.36,1013 L1246.52,1013 L1247.68,1013.01 L1248.84,1013.01 L1250,1013.01 L1251.16,1013.02 L1252.32,1013.02 L1253.48,1013.02 L1254.65,1013.03 L1255.81,1013.03 L1256.97,1013.03 L1258.13,1013.03 L1259.29,1013.04 L1260.45,1013.04 L1261.61,1013.04 L1262.77,1013.04 L1263.93,1013.04 L1265.09,1013.05 L1266.25,1013.05 L1267.41,1013.05 L1268.57,1013.05 L1269.73,1013.05 L1270.89,1013.06 L1272.05,1013.06 L1273.22,1013.06 L1274.38,1013.06 L1275.54,1013.06 L1276.7,1013.06 L1277.86,1013.06 L1279.02,1013.07 L1280.18,1013.07 L1281.34,1013.07 L1282.5,1013.07 L1283.66,1013.07 L1284.82,1013.07 L1285.98,1013.07 L1287.14,1013.07 L1288.3,1013.07 L1289.46,1013.08 L1290.62,1013.08 L1291.79,1013.08 L1292.95,1013.08 L1294.11,1013.08 L1295.27,1013.08 L1296.43,1013.08 L1297.59,1013.08 L1298.75,1013.08 L1299.91,1013.08 L1301.07,1013.08 L1302.23,1013.08 L1303.39,1013.08 L1304.55,1013.09 L1305.71,1013.09 L1306.87,1013.09 L1308.03,1013.09 L1309.19,1013.09 L1310.36,1013.09 L1311.52,1013.09 L1312.68,1013.09 L1313.84,1013.09 L1315,1013.09 L1316.16,1013.09 L1317.32,1013.09 L1318.48,1013.09 L1319.64,1013.09 L1320.8,1013.09 L1321.96,1013.09 L1323.12,1013.09 L1324.28,1013.09 L1325.44,1013.09 L1326.6,1013.09 L1327.76,1013.09 L1328.93,1013.09 L1330.09,1013.09 L1331.25,1013.09 L1332.41,1013.09 L1333.57,1013.09 L1334.73,1013.09 L1335.89,1013.09 L1337.05,1013.1 L1338.21,1013.1 L1339.37,1013.1 L1340.53,1013.1 L1341.69,1013.1 L1342.85,1013.1 L1344.01,1013.1 L1345.17,1013.1 L1346.33,1013.1 L1347.5,1013.1 L1348.66,1013.1 L1349.82,1013.1 L1350.98,1013.1 L1352.14,1013.1 L1353.3,1013.1 L1354.46,1013.1 L1355.62,1013.1 L1356.78,1013.1 L1357.94,1013.1 L1359.1,1013.1 L1360.26,1013.1 L1361.42,1013.1 L1362.58,1013.1 L1363.74,1013.1 L1364.9,1013.1 L1366.07,1013.1 L1367.23,1013.1 L1368.39,1013.1 L1369.55,1013.1 L1370.71,1013.1 L1371.87,1013.1 L1373.03,1013.1 L1374.19,1013.1 L1375.35,1013.1 L1376.51,1013.1 L1377.67,1013.1 L1378.83,1013.1 L1379.99,1013.1 L1381.15,1013.1 L1382.31,1013.1 L1383.47,1013.1 L1384.64,1013.1 L1385.8,1013.1 L1386.96,1013.1 L1388.12,1013.1 L1389.28,1013.1 L1390.44,1013.1 L1391.6,1013.1 L1392.76,1013.1 L1393.92,1013.1 L1395.08,1013.1 L1396.24,1013.1 L1397.4,1013.1 L1398.56,1013.1 L1399.72,1013.1 L1400.88,1013.1 L1402.04,1013.1 L1403.21,1013.1 L1404.37,1013.1 L1405.53,1013.1 L1406.69,1013.1 L1407.85,1013.1 L1409.01,1013.1 L1410.17,1013.1 L1411.33,1013.1 L1412.49,1013.1 L1413.65,1013.1 L1414.81,1013.1 L1415.97,1013.1 L1417.13,1013.1 L1418.29,1013.1 L1419.45,1013.1 L1420.61,1013.1 L1421.78,1013.1 L1422.94,1013.1 L1424.1,1013.1 L1425.26,1013.1 L1426.42,1013.1 L1427.58,1013.1 L1428.74,1013.1 L1429.9,1013.1 L1431.06,1013.1 L1432.22,1013.1" fill="none" stroke="#000" stroke-width="5.333" stroke-linejoin="round" stroke-linecap="square"/>
<path d="M786.51,1013.1 V126.2" stroke="#000" stroke-width="5.333" stroke-dasharray="19.733 8.533" fill="none"/>
<path d="M653,1013.1 V126.2" stroke="#000" stroke-opacity="0.75" stroke-width="4" stroke-dasharray="4.000 6.600" fill="none"/>
<path d="M919,1013.1 V126.2" stroke="#000" stroke-opacity="0.75" stroke-width="4" stroke-dasharray="4.000 6.600" fill="none"/>
</g>
<rect x="214" y="125" width="2" height="889" fill="#dddddd"/>
<rect x="214" y="1012" width="1277" height="2" fill="#dddddd"/>
<g fill="#000"><rect x="321" y="1014" width="2" height="8"/><rect x="536" y="1014" width="2" height="8"/><rect x="750" y="1014" width="2" height="8"/><rect x="965" y="1014" width="2" height="8"/><rect x="1180" y="1014" width="2" height="8"/><rect x="1394" y="1014" width="2" height="8"/><rect x="206" y="1012" width="8" height="2"/><rect x="206" y="903" width="8" height="2"/><rect x="206" y="793" width="8" height="2"/><rect x="206" y="684" width="8" height="2"/><rect x="206" y="574" width="8" height="2"/><rect x="206" y="465" width="8" height="2"/><rect x="206" y="355" width="8" height="2"/><rect x="206" y="246" width="8" height="2"/><rect x="206" y="136" width="8" height="2"/></g>
<rect x="1084.74" y="139.53" width="392.13" height="126" rx="5.33" ry="5.33" fill="#fff" fill-opacity="0.8" stroke="#cccccc" stroke-opacity="0.8" stroke-width="2.667"/>
<path d="M1095.4,161.5 H1148.7" stroke="#000" stroke-width="5.333" stroke-dasharray="19.733 8.533"/>
<path d="M1095,200 H1147.8" stroke="#000" stroke-opacity="0.75" stroke-width="4" stroke-dasharray="4.000 6.600"/>
<path d="M1095,240 H1147.8" stroke="#000" stroke-opacity="0.75" stroke-width="4" stroke-dasharray="4.000 6.600"/>

<text font-size="39.558" font-weight="bold" stroke="#000000" stroke-width="0.60" stroke-linejoin="round" fill="#000000"><tspan x="368.95" y="87.47" textLength="30.74" lengthAdjust="spacingAndGlyphs">A</tspan><tspan x="399.33" y="87.47" textLength="21.48" lengthAdjust="spacingAndGlyphs">s</tspan><tspan x="421.57" y="87.47" textLength="21.48" lengthAdjust="spacingAndGlyphs">s</tspan><tspan x="443.52" y="87.47" textLength="25.99" lengthAdjust="spacingAndGlyphs">u</tspan><tspan x="470.10" y="87.47" textLength="38.41" lengthAdjust="spacingAndGlyphs">m</tspan><tspan x="508.62" y="87.47" textLength="25.26" lengthAdjust="spacingAndGlyphs">e</tspan><tspan x="534.03" y="87.47" textLength="26.59" lengthAdjust="spacingAndGlyphs">d</tspan> <tspan x="574.54" y="87.47" textLength="30.19" lengthAdjust="spacingAndGlyphs">D</tspan><tspan x="604.74" y="87.47" textLength="13.23" lengthAdjust="spacingAndGlyphs">i</tspan><tspan x="618.31" y="87.47" textLength="21.48" lengthAdjust="spacingAndGlyphs">s</tspan><tspan x="639.82" y="87.47" textLength="17.82" lengthAdjust="spacingAndGlyphs">t</tspan><tspan x="657.74" y="87.47" textLength="19.18" lengthAdjust="spacingAndGlyphs">r</tspan><tspan x="676.09" y="87.47" textLength="13.23" lengthAdjust="spacingAndGlyphs">i</tspan><tspan x="689.36" y="87.47" textLength="26.59" lengthAdjust="spacingAndGlyphs">b</tspan><tspan x="716.12" y="87.47" textLength="25.99" lengthAdjust="spacingAndGlyphs">u</tspan><tspan x="742.29" y="87.47" textLength="17.82" lengthAdjust="spacingAndGlyphs">t</tspan><tspan x="760.13" y="87.47" textLength="13.23" lengthAdjust="spacingAndGlyphs">i</tspan><tspan x="773.08" y="87.47" textLength="25.76" lengthAdjust="spacingAndGlyphs">o</tspan><tspan x="799.13" y="87.47" textLength="25.99" lengthAdjust="spacingAndGlyphs">n</tspan><tspan x="825.08" y="87.47" textLength="15.60" lengthAdjust="spacingAndGlyphs">:</tspan> <tspan x="854.45" y="87.47" textLength="28.22" lengthAdjust="spacingAndGlyphs">U</tspan><tspan x="885.36" y="87.47" textLength="23.93" lengthAdjust="spacingAndGlyphs">S</tspan> <tspan x="924.05" y="87.47" textLength="25.60" lengthAdjust="spacingAndGlyphs">C</tspan><tspan x="951.54" y="87.47" textLength="21.57" lengthAdjust="spacingAndGlyphs">a</tspan><tspan x="976.62" y="87.47" textLength="25.99" lengthAdjust="spacingAndGlyphs">n</tspan><tspan x="1003.06" y="87.47" textLength="20.58" lengthAdjust="spacingAndGlyphs">c</tspan><tspan x="1024.88" y="87.47" textLength="25.26" lengthAdjust="spacingAndGlyphs">e</tspan><tspan x="1050.29" y="87.47" textLength="19.18" lengthAdjust="spacingAndGlyphs">r</tspan> <tspan x="1080.96" y="87.47" textLength="30.74" lengthAdjust="spacingAndGlyphs">A</tspan><tspan x="1111.10" y="87.47" textLength="25.99" lengthAdjust="spacingAndGlyphs">n</tspan><tspan x="1137.70" y="87.47" textLength="25.99" lengthAdjust="spacingAndGlyphs">n</tspan><tspan x="1164.26" y="87.47" textLength="25.99" lengthAdjust="spacingAndGlyphs">u</tspan><tspan x="1191.05" y="87.47" textLength="21.57" lengthAdjust="spacingAndGlyphs">a</tspan><tspan x="1215.62" y="87.47" textLength="13.23" lengthAdjust="spacingAndGlyphs">l</tspan> <tspan x="1242.03" y="87.47" textLength="25.60" lengthAdjust="spacingAndGlyphs">C</tspan><tspan x="1269.01" y="87.47" textLength="25.76" lengthAdjust="spacingAndGlyphs">o</tspan><tspan x="1295.31" y="87.47" textLength="21.48" lengthAdjust="spacingAndGlyphs">s</tspan><tspan x="1316.81" y="87.47" textLength="17.82" lengthAdjust="spacingAndGlyphs">t</tspan></text>
<text font-size="33.907" stroke="#000000" stroke-width="0.12" stroke-linejoin="round" fill="#000000"><tspan x="215.66" y="118.55" textLength="17.88" lengthAdjust="spacingAndGlyphs">1</tspan><tspan x="235.21" y="118.55" textLength="19.18" lengthAdjust="spacingAndGlyphs">e</tspan><tspan x="255.91" y="118.55" textLength="24.03" lengthAdjust="spacingAndGlyphs">−</tspan><tspan x="282.38" y="118.55" textLength="17.88" lengthAdjust="spacingAndGlyphs">1</tspan><tspan x="302.69" y="118.55" textLength="17.88" lengthAdjust="spacingAndGlyphs">1</tspan></text>
<text transform="translate(81.34 718.00) rotate(-90)" font-size="33.907" stroke="#000000" stroke-width="0.12" stroke-linejoin="round" fill="#000000"><tspan x="-3.04" y="0" textLength="18.85" lengthAdjust="spacingAndGlyphs">P</tspan><tspan x="15.04" y="0" textLength="13.64" lengthAdjust="spacingAndGlyphs">r</tspan><tspan x="27.62" y="0" textLength="18.90" lengthAdjust="spacingAndGlyphs">o</tspan><tspan x="47.50" y="0" textLength="19.34" lengthAdjust="spacingAndGlyphs">b</tspan><tspan x="67.82" y="0" textLength="15.98" lengthAdjust="spacingAndGlyphs">a</tspan><tspan x="87.37" y="0" textLength="19.34" lengthAdjust="spacingAndGlyphs">b</tspan><tspan x="107.82" y="0" textLength="7.26" lengthAdjust="spacingAndGlyphs">i</tspan><tspan x="116.69" y="0" textLength="7.26" lengthAdjust="spacingAndGlyphs">l</tspan><tspan x="125.58" y="0" textLength="7.26" lengthAdjust="spacingAndGlyphs">i</tspan><tspan x="133.85" y="0" textLength="11.87" lengthAdjust="spacingAndGlyphs">t</tspan><tspan x="147.04" y="0" textLength="17.16" lengthAdjust="spacingAndGlyphs">y</tspan> <tspan x="175.67" y="0" textLength="23.88" lengthAdjust="spacingAndGlyphs">D</tspan><tspan x="200.15" y="0" textLength="19.20" lengthAdjust="spacingAndGlyphs">e</tspan><tspan x="220.13" y="0" textLength="19.16" lengthAdjust="spacingAndGlyphs">n</tspan><tspan x="240.65" y="0" textLength="15.32" lengthAdjust="spacingAndGlyphs">s</tspan><tspan x="257.25" y="0" textLength="7.26" lengthAdjust="spacingAndGlyphs">i</tspan><tspan x="265.52" y="0" textLength="11.87" lengthAdjust="spacingAndGlyphs">t</tspan><tspan x="278.70" y="0" textLength="17.16" lengthAdjust="spacingAndGlyphs">y</tspan></text>
<text font-size="33.907" stroke="#000000" stroke-width="0.12" stroke-linejoin="round" fill="#000000"><tspan x="617.33" y="1122.78" textLength="22.67" lengthAdjust="spacingAndGlyphs">U</tspan><tspan x="641.17" y="1122.78" textLength="18.99" lengthAdjust="spacingAndGlyphs">S</tspan> <tspan x="671.07" y="1122.78" textLength="21.41" lengthAdjust="spacingAndGlyphs">C</tspan><tspan x="693.79" y="1122.78" textLength="15.98" lengthAdjust="spacingAndGlyphs">a</tspan><tspan x="713.28" y="1122.78" textLength="19.15" lengthAdjust="spacingAndGlyphs">n</tspan><tspan x="733.31" y="1122.78" textLength="16.03" lengthAdjust="spacingAndGlyphs">c</tspan><tspan x="750.77" y="1122.78" textLength="19.19" lengthAdjust="spacingAndGlyphs">e</tspan><tspan x="770.31" y="1122.78" textLength="13.63" lengthAdjust="spacingAndGlyphs">r</tspan> <tspan x="793.60" y="1122.78" textLength="21.46" lengthAdjust="spacingAndGlyphs">A</tspan><tspan x="815.88" y="1122.78" textLength="19.15" lengthAdjust="spacingAndGlyphs">n</tspan><tspan x="836.12" y="1122.78" textLength="19.15" lengthAdjust="spacingAndGlyphs">n</tspan><tspan x="856.23" y="1122.78" textLength="19.15" lengthAdjust="spacingAndGlyphs">u</tspan><tspan x="876.70" y="1122.78" textLength="15.98" lengthAdjust="spacingAndGlyphs">a</tspan><tspan x="896.38" y="1122.78" textLength="7.25" lengthAdjust="spacingAndGlyphs">l</tspan> <tspan x="914.89" y="1122.78" textLength="21.41" lengthAdjust="spacingAndGlyphs">C</tspan><tspan x="937.24" y="1122.78" textLength="18.89" lengthAdjust="spacingAndGlyphs">o</tspan><tspan x="957.33" y="1122.78" textLength="15.31" lengthAdjust="spacingAndGlyphs">s</tspan><tspan x="973.30" y="1122.78" textLength="11.86" lengthAdjust="spacingAndGlyphs">t</tspan> <tspan x="996.84" y="1122.78" textLength="8.99" lengthAdjust="spacingAndGlyphs">(</tspan><tspan x="1008.59" y="1122.78" textLength="22.67" lengthAdjust="spacingAndGlyphs">U</tspan><tspan x="1032.43" y="1122.78" textLength="18.99" lengthAdjust="spacingAndGlyphs">S</tspan><tspan x="1052.31" y="1122.78" textLength="23.87" lengthAdjust="spacingAndGlyphs">D</tspan><tspan x="1078.89" y="1122.78" textLength="8.99" lengthAdjust="spacingAndGlyphs">)</tspan></text>
<text font-size="30.304" fill="#333333"><tspan x="1285.89" y="1170.90" textLength="27.27" lengthAdjust="spacingAndGlyphs">W</tspan><tspan x="1312.79" y="1170.90" textLength="14.66" lengthAdjust="spacingAndGlyphs">a</tspan><tspan x="1330.28" y="1170.90" textLength="12.51" lengthAdjust="spacingAndGlyphs">r</tspan><tspan x="1342.44" y="1170.90" textLength="22.54" lengthAdjust="spacingAndGlyphs">O</tspan><tspan x="1365.80" y="1170.90" textLength="17.57" lengthAdjust="spacingAndGlyphs">n</tspan><tspan x="1384.20" y="1170.90" textLength="21.90" lengthAdjust="spacingAndGlyphs">D</tspan><tspan x="1407.14" y="1170.90" textLength="6.66" lengthAdjust="spacingAndGlyphs">i</tspan><tspan x="1415.33" y="1170.90" textLength="14.05" lengthAdjust="spacingAndGlyphs">s</tspan><tspan x="1430.06" y="1170.90" textLength="17.61" lengthAdjust="spacingAndGlyphs">e</tspan><tspan x="1448.47" y="1170.90" textLength="14.66" lengthAdjust="spacingAndGlyphs">a</tspan><tspan x="1466.59" y="1170.90" textLength="14.05" lengthAdjust="spacingAndGlyphs">s</tspan><tspan x="1481.33" y="1170.90" textLength="17.61" lengthAdjust="spacingAndGlyphs">e</tspan><tspan x="1499.33" y="1170.90" textLength="8.81" lengthAdjust="spacingAndGlyphs">.</tspan><tspan x="1508.71" y="1170.90" textLength="17.33" lengthAdjust="spacingAndGlyphs">o</tspan><tspan x="1526.51" y="1170.90" textLength="12.51" lengthAdjust="spacingAndGlyphs">r</tspan><tspan x="1538.16" y="1170.90" textLength="17.72" lengthAdjust="spacingAndGlyphs">g</tspan></text>
<text font-size="33.907" stroke="#000000" stroke-width="0.12" stroke-linejoin="round" fill="#000000"><tspan x="273.19" y="1065.80" textLength="15.62" lengthAdjust="spacingAndGlyphs">$</tspan><tspan x="292.03" y="1065.80" textLength="17.71" lengthAdjust="spacingAndGlyphs">1</tspan><tspan x="311.89" y="1065.80" textLength="18.54" lengthAdjust="spacingAndGlyphs">0</tspan><tspan x="332.01" y="1065.80" textLength="18.54" lengthAdjust="spacingAndGlyphs">0</tspan><tspan x="351.93" y="1065.80" textLength="20.49" lengthAdjust="spacingAndGlyphs">B</tspan></text>
<text font-size="33.907" stroke="#000000" stroke-width="0.12" stroke-linejoin="round" fill="#000000"><tspan x="488.30" y="1065.80" textLength="15.54" lengthAdjust="spacingAndGlyphs">$</tspan><tspan x="507.04" y="1065.80" textLength="17.61" lengthAdjust="spacingAndGlyphs">1</tspan><tspan x="527.18" y="1065.80" textLength="17.40" lengthAdjust="spacingAndGlyphs">5</tspan><tspan x="546.79" y="1065.80" textLength="18.44" lengthAdjust="spacingAndGlyphs">0</tspan><tspan x="566.60" y="1065.80" textLength="20.38" lengthAdjust="spacingAndGlyphs">B</tspan></text>
<text font-size="33.907" stroke="#000000" stroke-width="0.12" stroke-linejoin="round" fill="#000000"><tspan x="702.19" y="1065.80" textLength="15.57" lengthAdjust="spacingAndGlyphs">$</tspan><tspan x="720.62" y="1065.80" textLength="17.81" lengthAdjust="spacingAndGlyphs">2</tspan><tspan x="740.76" y="1065.80" textLength="18.48" lengthAdjust="spacingAndGlyphs">0</tspan><tspan x="760.81" y="1065.80" textLength="18.48" lengthAdjust="spacingAndGlyphs">0</tspan><tspan x="780.67" y="1065.80" textLength="20.43" lengthAdjust="spacingAndGlyphs">B</tspan></text>
<text font-size="33.907" stroke="#000000" stroke-width="0.12" stroke-linejoin="round" fill="#000000"><tspan x="917.01" y="1065.80" textLength="15.60" lengthAdjust="spacingAndGlyphs">$</tspan><tspan x="935.48" y="1065.80" textLength="17.85" lengthAdjust="spacingAndGlyphs">2</tspan><tspan x="956.05" y="1065.80" textLength="17.47" lengthAdjust="spacingAndGlyphs">5</tspan><tspan x="975.75" y="1065.80" textLength="18.52" lengthAdjust="spacingAndGlyphs">0</tspan><tspan x="995.64" y="1065.80" textLength="20.47" lengthAdjust="spacingAndGlyphs">B</tspan></text>
<text font-size="33.907" stroke="#000000" stroke-width="0.12" stroke-linejoin="round" fill="#000000"><tspan x="1132.34" y="1065.80" textLength="15.54" lengthAdjust="spacingAndGlyphs">$</tspan><tspan x="1151.22" y="1065.80" textLength="17.70" lengthAdjust="spacingAndGlyphs">3</tspan><tspan x="1170.82" y="1065.80" textLength="18.44" lengthAdjust="spacingAndGlyphs">0</tspan><tspan x="1190.83" y="1065.80" textLength="18.44" lengthAdjust="spacingAndGlyphs">0</tspan><tspan x="1210.64" y="1065.80" textLength="20.38" lengthAdjust="spacingAndGlyphs">B</tspan></text>
<text font-size="33.907" stroke="#000000" stroke-width="0.12" stroke-linejoin="round" fill="#000000"><tspan x="1346.21" y="1065.80" textLength="15.54" lengthAdjust="spacingAndGlyphs">$</tspan><tspan x="1365.09" y="1065.80" textLength="17.71" lengthAdjust="spacingAndGlyphs">3</tspan><tspan x="1385.09" y="1065.80" textLength="17.40" lengthAdjust="spacingAndGlyphs">5</tspan><tspan x="1404.71" y="1065.80" textLength="18.44" lengthAdjust="spacingAndGlyphs">0</tspan><tspan x="1424.52" y="1065.80" textLength="20.38" lengthAdjust="spacingAndGlyphs">B</tspan></text>
<text font-size="33.907" stroke="#000000" stroke-width="0.12" stroke-linejoin="round" fill="#000000"><tspan x="116.20" y="1025.55" textLength="18.64" lengthAdjust="spacingAndGlyphs">0</tspan><tspan x="135.89" y="1025.55" textLength="9.56" lengthAdjust="spacingAndGlyphs">.</tspan><tspan x="146.53" y="1025.55" textLength="18.64" lengthAdjust="spacingAndGlyphs">0</tspan><tspan x="166.75" y="1025.55" textLength="18.64" lengthAdjust="spacingAndGlyphs">0</tspan></text>
<text font-size="33.907" stroke="#000000" stroke-width="0.12" stroke-linejoin="round" fill="#000000"><tspan x="116.49" y="915.54" textLength="18.47" lengthAdjust="spacingAndGlyphs">0</tspan><tspan x="136.01" y="915.54" textLength="9.47" lengthAdjust="spacingAndGlyphs">.</tspan><tspan x="146.46" y="915.54" textLength="17.80" lengthAdjust="spacingAndGlyphs">2</tspan><tspan x="166.99" y="915.54" textLength="17.43" lengthAdjust="spacingAndGlyphs">5</tspan></text>
<text font-size="33.907" stroke="#000000" stroke-width="0.12" stroke-linejoin="round" fill="#000000"><tspan x="116.63" y="806.54" textLength="18.39" lengthAdjust="spacingAndGlyphs">0</tspan><tspan x="136.07" y="806.54" textLength="9.43" lengthAdjust="spacingAndGlyphs">.</tspan><tspan x="146.95" y="806.54" textLength="17.36" lengthAdjust="spacingAndGlyphs">5</tspan><tspan x="166.52" y="806.54" textLength="18.39" lengthAdjust="spacingAndGlyphs">0</tspan></text>
<text font-size="33.907" stroke="#000000" stroke-width="0.12" stroke-linejoin="round" fill="#000000"><tspan x="116.59" y="696.54" textLength="18.36" lengthAdjust="spacingAndGlyphs">0</tspan><tspan x="135.99" y="696.54" textLength="9.41" lengthAdjust="spacingAndGlyphs">.</tspan><tspan x="146.60" y="696.54" textLength="17.96" lengthAdjust="spacingAndGlyphs">7</tspan><tspan x="166.77" y="696.54" textLength="17.32" lengthAdjust="spacingAndGlyphs">5</tspan></text>
<text font-size="33.907" stroke="#000000" stroke-width="0.12" stroke-linejoin="round" fill="#000000"><tspan x="117.25" y="586.54" textLength="17.49" lengthAdjust="spacingAndGlyphs">1</tspan><tspan x="136.34" y="586.54" textLength="9.39" lengthAdjust="spacingAndGlyphs">.</tspan><tspan x="146.78" y="586.54" textLength="18.31" lengthAdjust="spacingAndGlyphs">0</tspan><tspan x="166.65" y="586.54" textLength="18.31" lengthAdjust="spacingAndGlyphs">0</tspan></text>
<text font-size="33.907" stroke="#000000" stroke-width="0.12" stroke-linejoin="round" fill="#000000"><tspan x="117.10" y="477.55" textLength="17.62" lengthAdjust="spacingAndGlyphs">1</tspan><tspan x="136.33" y="477.55" textLength="9.46" lengthAdjust="spacingAndGlyphs">.</tspan><tspan x="146.77" y="477.55" textLength="17.78" lengthAdjust="spacingAndGlyphs">2</tspan><tspan x="167.27" y="477.55" textLength="17.41" lengthAdjust="spacingAndGlyphs">5</tspan></text>
<text font-size="33.907" stroke="#000000" stroke-width="0.12" stroke-linejoin="round" fill="#000000"><tspan x="117.17" y="367.55" textLength="17.42" lengthAdjust="spacingAndGlyphs">1</tspan><tspan x="136.19" y="367.55" textLength="9.35" lengthAdjust="spacingAndGlyphs">.</tspan><tspan x="146.98" y="367.55" textLength="17.22" lengthAdjust="spacingAndGlyphs">5</tspan><tspan x="166.39" y="367.55" textLength="18.24" lengthAdjust="spacingAndGlyphs">0</tspan></text>
<text font-size="33.907" stroke="#000000" stroke-width="0.12" stroke-linejoin="round" fill="#000000"><tspan x="117.05" y="258.55" textLength="17.59" lengthAdjust="spacingAndGlyphs">1</tspan><tspan x="136.25" y="258.55" textLength="9.44" lengthAdjust="spacingAndGlyphs">.</tspan><tspan x="146.90" y="258.55" textLength="18.01" lengthAdjust="spacingAndGlyphs">7</tspan><tspan x="167.14" y="258.55" textLength="17.38" lengthAdjust="spacingAndGlyphs">5</tspan></text>
<text font-size="33.907" stroke="#000000" stroke-width="0.12" stroke-linejoin="round" fill="#000000"><tspan x="116.73" y="148.54" textLength="17.67" lengthAdjust="spacingAndGlyphs">2</tspan><tspan x="136.18" y="148.54" textLength="9.40" lengthAdjust="spacingAndGlyphs">.</tspan><tspan x="146.64" y="148.54" textLength="18.33" lengthAdjust="spacingAndGlyphs">0</tspan><tspan x="166.54" y="148.54" textLength="18.33" lengthAdjust="spacingAndGlyphs">0</tspan></text>
<text font-size="29.103" stroke="#000000" stroke-width="0.12" stroke-linejoin="round" fill="#000000"><tspan x="1170.14" y="170.62" textLength="17.86" lengthAdjust="spacingAndGlyphs">C</tspan><tspan x="1188.74" y="170.62" textLength="16.00" lengthAdjust="spacingAndGlyphs">e</tspan><tspan x="1205.40" y="170.62" textLength="15.97" lengthAdjust="spacingAndGlyphs">n</tspan><tspan x="1221.94" y="170.62" textLength="9.89" lengthAdjust="spacingAndGlyphs">t</tspan><tspan x="1232.36" y="170.62" textLength="11.36" lengthAdjust="spacingAndGlyphs">r</tspan><tspan x="1243.74" y="170.62" textLength="13.32" lengthAdjust="spacingAndGlyphs">a</tspan><tspan x="1260.16" y="170.62" textLength="6.05" lengthAdjust="spacingAndGlyphs">l</tspan><tspan x="1267.37" y="170.62" textLength="8.01" lengthAdjust="spacingAndGlyphs">:</tspan> <tspan x="1284.91" y="170.62" textLength="15.05" lengthAdjust="spacingAndGlyphs">2</tspan><tspan x="1301.49" y="170.62" textLength="8.01" lengthAdjust="spacingAndGlyphs">.</tspan><tspan x="1310.62" y="170.62" textLength="14.91" lengthAdjust="spacingAndGlyphs">1</tspan><tspan x="1326.93" y="170.62" textLength="16.00" lengthAdjust="spacingAndGlyphs">e</tspan><tspan x="1344.22" y="170.62" textLength="20.04" lengthAdjust="spacingAndGlyphs">+</tspan><tspan x="1366.27" y="170.62" textLength="14.91" lengthAdjust="spacingAndGlyphs">1</tspan><tspan x="1383.22" y="170.62" textLength="14.91" lengthAdjust="spacingAndGlyphs">1</tspan></text>
<text font-size="29.103" stroke="#000000" stroke-width="0.12" stroke-linejoin="round" fill="#000000"><tspan x="1170.51" y="210.12" textLength="16.14" lengthAdjust="spacingAndGlyphs">9</tspan><tspan x="1188.15" y="210.12" textLength="14.75" lengthAdjust="spacingAndGlyphs">5</tspan><tspan x="1204.61" y="210.12" textLength="24.34" lengthAdjust="spacingAndGlyphs">%</tspan> <tspan x="1238.16" y="210.12" textLength="17.87" lengthAdjust="spacingAndGlyphs">C</tspan><tspan x="1256.55" y="210.12" textLength="7.83" lengthAdjust="spacingAndGlyphs">I</tspan> <tspan x="1273.24" y="210.12" textLength="15.25" lengthAdjust="spacingAndGlyphs">L</tspan><tspan x="1287.53" y="210.12" textLength="15.76" lengthAdjust="spacingAndGlyphs">o</tspan><tspan x="1304.72" y="210.12" textLength="19.46" lengthAdjust="spacingAndGlyphs">w</tspan><tspan x="1324.39" y="210.12" textLength="8.01" lengthAdjust="spacingAndGlyphs">:</tspan> <tspan x="1342.24" y="210.12" textLength="14.93" lengthAdjust="spacingAndGlyphs">1</tspan><tspan x="1358.53" y="210.12" textLength="8.01" lengthAdjust="spacingAndGlyphs">.</tspan><tspan x="1367.36" y="210.12" textLength="15.80" lengthAdjust="spacingAndGlyphs">8</tspan><tspan x="1384.00" y="210.12" textLength="16.01" lengthAdjust="spacingAndGlyphs">e</tspan><tspan x="1401.30" y="210.12" textLength="20.06" lengthAdjust="spacingAndGlyphs">+</tspan><tspan x="1423.37" y="210.12" textLength="14.93" lengthAdjust="spacingAndGlyphs">1</tspan><tspan x="1440.33" y="210.12" textLength="14.93" lengthAdjust="spacingAndGlyphs">1</tspan></text>
<text font-size="29.103" stroke="#000000" stroke-width="0.12" stroke-linejoin="round" fill="#000000"><tspan x="1170.53" y="249.45" textLength="16.12" lengthAdjust="spacingAndGlyphs">9</tspan><tspan x="1188.15" y="249.45" textLength="14.73" lengthAdjust="spacingAndGlyphs">5</tspan><tspan x="1204.59" y="249.45" textLength="24.31" lengthAdjust="spacingAndGlyphs">%</tspan> <tspan x="1238.10" y="249.45" textLength="17.85" lengthAdjust="spacingAndGlyphs">C</tspan><tspan x="1256.47" y="249.45" textLength="7.82" lengthAdjust="spacingAndGlyphs">I</tspan> <tspan x="1273.21" y="249.45" textLength="19.13" lengthAdjust="spacingAndGlyphs">H</tspan><tspan x="1293.48" y="249.45" textLength="6.05" lengthAdjust="spacingAndGlyphs">i</tspan><tspan x="1300.45" y="249.45" textLength="16.10" lengthAdjust="spacingAndGlyphs">g</tspan><tspan x="1317.51" y="249.45" textLength="16.08" lengthAdjust="spacingAndGlyphs">h</tspan><tspan x="1334.46" y="249.45" textLength="8.01" lengthAdjust="spacingAndGlyphs">:</tspan> <tspan x="1352.00" y="249.45" textLength="15.05" lengthAdjust="spacingAndGlyphs">2</tspan><tspan x="1368.56" y="249.45" textLength="8.01" lengthAdjust="spacingAndGlyphs">.</tspan><tspan x="1377.47" y="249.45" textLength="15.61" lengthAdjust="spacingAndGlyphs">4</tspan><tspan x="1394.00" y="249.45" textLength="16.00" lengthAdjust="spacingAndGlyphs">e</tspan><tspan x="1411.28" y="249.45" textLength="20.04" lengthAdjust="spacingAndGlyphs">+</tspan><tspan x="1433.33" y="249.45" textLength="14.91" lengthAdjust="spacingAndGlyphs">1</tspan><tspan x="1450.27" y="249.45" textLength="14.91" lengthAdjust="spacingAndGlyphs">1</tspan></text>
</svg>
</body></html>
